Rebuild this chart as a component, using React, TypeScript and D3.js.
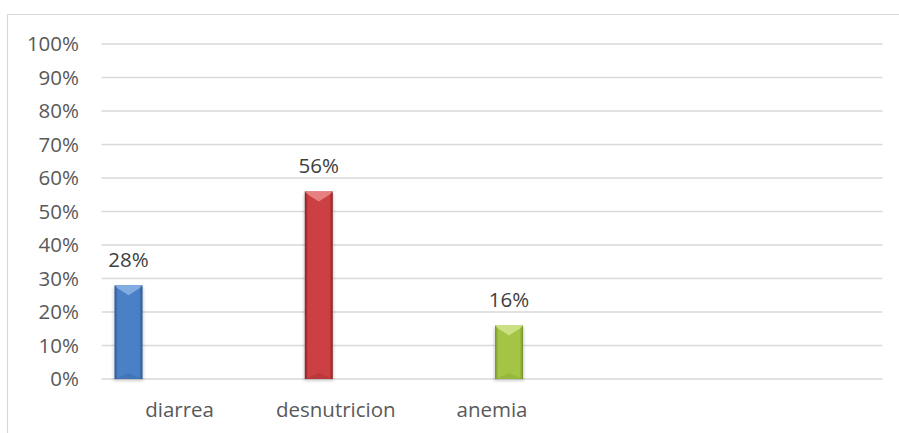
import React from "react";
import * as d3 from "d3";

// Chart data
const categories = ["diarrea", "desnutricion", "anemia", "", ""];
const values = [0.28, 0.56, 0.16];
const yTicks = [0, 0.1, 0.2, 0.3, 0.4, 0.5, 0.6, 0.7, 0.8, 0.9, 1.0];
const barColors = [
  { edge: "#2a5592", mid: "#4a80c6", light: "#8db4e6" },
  { edge: "#86201f", mid: "#cc4043", light: "#ea8c8c" },
  { edge: "#74922a", mid: "#a3c444", light: "#d1e58d" },
];

const W = 899;
const H = 433;
const plotLeft = 101.5;
const plotRight = 882.5;
const plotTop = 44;
const plotBottom = 379;
const seriesSlots = 4;

export default function App() {
  const x = d3.scaleBand<string>()
    .domain(categories.map((c, i) => String(i)))
    .range([plotLeft, plotRight])
    .padding(0);
  const y = d3.scaleLinear().domain([0, 1]).range([plotBottom, plotTop]);
  const inner = d3.scaleBand<number>()
    .domain(d3.range(seriesSlots))
    .range([10, x.bandwidth() - 10])
    .paddingInner(0.16)
    .paddingOuter(0.08);
  const fmt = d3.format(".0%");
  const font = "'Open Sans', 'Noto Sans', sans-serif";
  const fs = 20.5;

  return (
    <svg width={W} height={H} style={{ position: "absolute", left: 0, top: 0 }}>
      <defs>
        {barColors.map((c, i) => (
          <linearGradient key={i} id={`bar-grad-${i}`} x1="0" x2="1" y1="0" y2="0">
            <stop offset="0" stopColor={c.edge} />
            <stop offset="0.12" stopColor={c.mid} />
            <stop offset="0.5" stopColor={c.mid} />
            <stop offset="0.88" stopColor={c.mid} />
            <stop offset="1" stopColor={c.edge} />
          </linearGradient>
        ))}
        <filter id="bar-shadow" x="-30%" y="-10%" width="160%" height="130%">
          <feGaussianBlur stdDeviation="1.5" />
        </filter>
      </defs>
      <rect x={0} y={0} width={W} height={H} fill="#fff" />
      {/* chart area border */}
      <path d={`M7.5,${H} V14.5 H${W}`} fill="none" stroke="#d9d9d9" strokeWidth={1.2} />

      {/* gridlines */}
      {yTicks.map((t) => (
        <line key={t} x1={plotLeft} x2={plotRight} y1={y(t)} y2={y(t)}
          stroke="#d9d9d9" strokeWidth={1.3} />
      ))}

      {/* y tick labels */}
      {yTicks.map((t) => (
        <text key={t} x={79} y={y(t) + 7} textAnchor="end" fontFamily={font}
          fontSize={fs} fill="#595959">{fmt(t)}</text>
      ))}

      {/* bars */}
      {values.map((v, i) => {
        const bw = 28;
        const cx = (x(String(i)) ?? 0) + (inner(i) ?? 0) + inner.bandwidth() / 2;
        const x0 = cx - bw / 2;
        const y0 = y(v);
        const h = plotBottom - y0;
        const c = barColors[i];
        const bevel = 10;
        return (
          <g key={i}>
            <rect x={x0 - 1} y={y0 + 2} width={bw + 2} height={h} fill="#000"
              opacity={0.18} filter="url(#bar-shadow)" />
            <rect x={x0} y={y0} width={bw} height={h} fill={`url(#bar-grad-${i})`} />
            <polygon points={`${x0},${y0} ${x0 + bw},${y0} ${x0 + bw - 3},${y0 + 3} ${cx},${y0 + bevel} ${x0 + 3},${y0 + 3}`}
              fill={c.light} opacity={0.85} />
            <polygon points={`${x0},${plotBottom} ${x0 + bw},${plotBottom} ${cx},${plotBottom - 6}`}
              fill={c.edge} opacity={0.25} />
            <text x={cx} y={y0 - 18} textAnchor="middle" fontFamily={font}
              fontSize={fs} fill="#404040">{fmt(v)}</text>
          </g>
        );
      })}

      {/* category labels */}
      {categories.map((c, i) => (
        <text key={i} x={(x(String(i)) ?? 0) + x.bandwidth() / 2} y={416.5}
          textAnchor="middle" fontFamily={font} fontSize={fs} fill="#595959">{c}</text>
      ))}
    </svg>
  );
}
